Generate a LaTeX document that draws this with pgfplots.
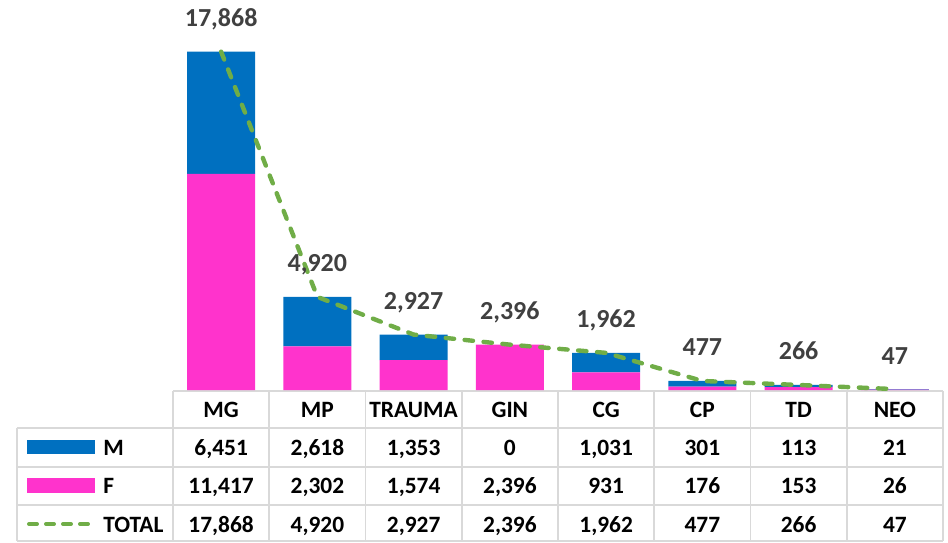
\documentclass[border=0pt]{standalone}
\usepackage{pgfplots}
\pgfplotsset{compat=1.18}
\usepackage{fontspec}
\setmainfont{Carlito}
\definecolor{mblue}{HTML}{0070C0}
\definecolor{fpink}{HTML}{FF33CC}
\definecolor{tgreen}{HTML}{70AD47}
\definecolor{lblgray}{HTML}{404040}
\definecolor{gridgray}{HTML}{D9D9D9}
\newcommand\tabfont{\fontsize{11.7}{14}\selectfont\bfseries}
\newcommand\lblfont{\fontsize{13}{15}\selectfont\bfseries}
\begin{document}
\begin{tikzpicture}
\pgfplotsset{
  base/.style={at={(0,0)}, anchor=south west, scale only axis, width=385pt, height=195pt,
   xmin=-0.5, xmax=7.5, ymin=0, ymax=20600, axis lines=none, clip=false},
  tabrow/.style={draw=none, mark=none, nodes near coords, point meta=explicit symbolic,
   nodes near coords style={anchor=base, yshift=#1, text=black, font=\tabfont}},
}
\path[use as bounding box] (-86.5pt,-76pt) rectangle (387.5pt,195pt);
% table grid
\begin{scope}[line width=0.9pt]
\foreach \k in {0,...,8} \draw[gridgray] ({\k*48.125pt},-0.5pt) -- ({\k*48.125pt},-75.5pt);
\draw[gridgray] (0pt,-0.5pt) -- (385pt,-0.5pt);
\foreach \yy in {-19,-38.5,-57.5,-75.5} \draw[gridgray] (-78pt,\yy pt) -- (385pt,\yy pt);
\draw[gridgray] (-78pt,-19pt) -- (-78pt,-75.5pt);
\end{scope}
% legend keys
\fill[mblue] (-73pt,-25pt) rectangle (-39pt,-32pt);
\fill[fpink] (-73pt,-44pt) rectangle (-39pt,-51.5pt);
\draw[tgreen, line width=2pt, line cap=round, dash pattern=on 4pt off 4.5pt] (-72pt,-67pt) -- (-39pt,-67pt);
\node[anchor=base west, inner sep=0pt, font=\tabfont] at (-35pt,-32.5pt) {M};
\node[anchor=base west, inner sep=0pt, font=\tabfont] at (-35pt,-51.5pt) {F};
\node[anchor=base west, inner sep=0pt, font=\tabfont] at (-35pt,-71pt) {TOTAL};
\begin{axis}[base, ybar stacked, bar width=34pt]
\addplot[fill=fpink, draw=none] coordinates {(0,11417)(1,2302)(2,1574)(3,2396)(4,931)(5,176)(6,153)(7,26)};
\addplot[fill=mblue, draw=none] coordinates {(0,6451)(1,2618)(2,1353)(3,0)(4,1031)(5,301)(6,113)(7,21)};
\end{axis}
\begin{axis}[base]
\addplot[tgreen, line width=2.2pt, dash pattern=on 4.2pt off 5.3pt, line cap=round, mark=none,
  nodes near coords, point meta=explicit symbolic,
  nodes near coords style={anchor=base, yshift=12.5pt, text=lblgray, font=\lblfont}]
 coordinates {(0,17868)[{17,868}] (1,4920)[{4,920}] (2,2927)[{2,927}] (3,2396)[{2,396}] (4,1962)[{1,962}] (5,477)[{477}] (6,266)[{266}] (7,47)[{47}]};
\addplot[tabrow=-13.5pt] coordinates {(0,0)[MG] (1,0)[MP] (2,0)[TRAUMA] (3,0)[GIN] (4,0)[CG] (5,0)[CP] (6,0)[TD] (7,0)[NEO]};
\addplot[tabrow=-32.5pt] coordinates {(0,0)[{6,451}] (1,0)[{2,618}] (2,0)[{1,353}] (3,0)[{0}] (4,0)[{1,031}] (5,0)[{301}] (6,0)[{113}] (7,0)[{21}]};
\addplot[tabrow=-51.5pt] coordinates {(0,0)[{11,417}] (1,0)[{2,302}] (2,0)[{1,574}] (3,0)[{2,396}] (4,0)[{931}] (5,0)[{176}] (6,0)[{153}] (7,0)[{26}]};
\addplot[tabrow=-71pt] coordinates {(0,0)[{17,868}] (1,0)[{4,920}] (2,0)[{2,927}] (3,0)[{2,396}] (4,0)[{1,962}] (5,0)[{477}] (6,0)[{266}] (7,0)[{47}]};
\end{axis}
\end{tikzpicture}
\end{document}
